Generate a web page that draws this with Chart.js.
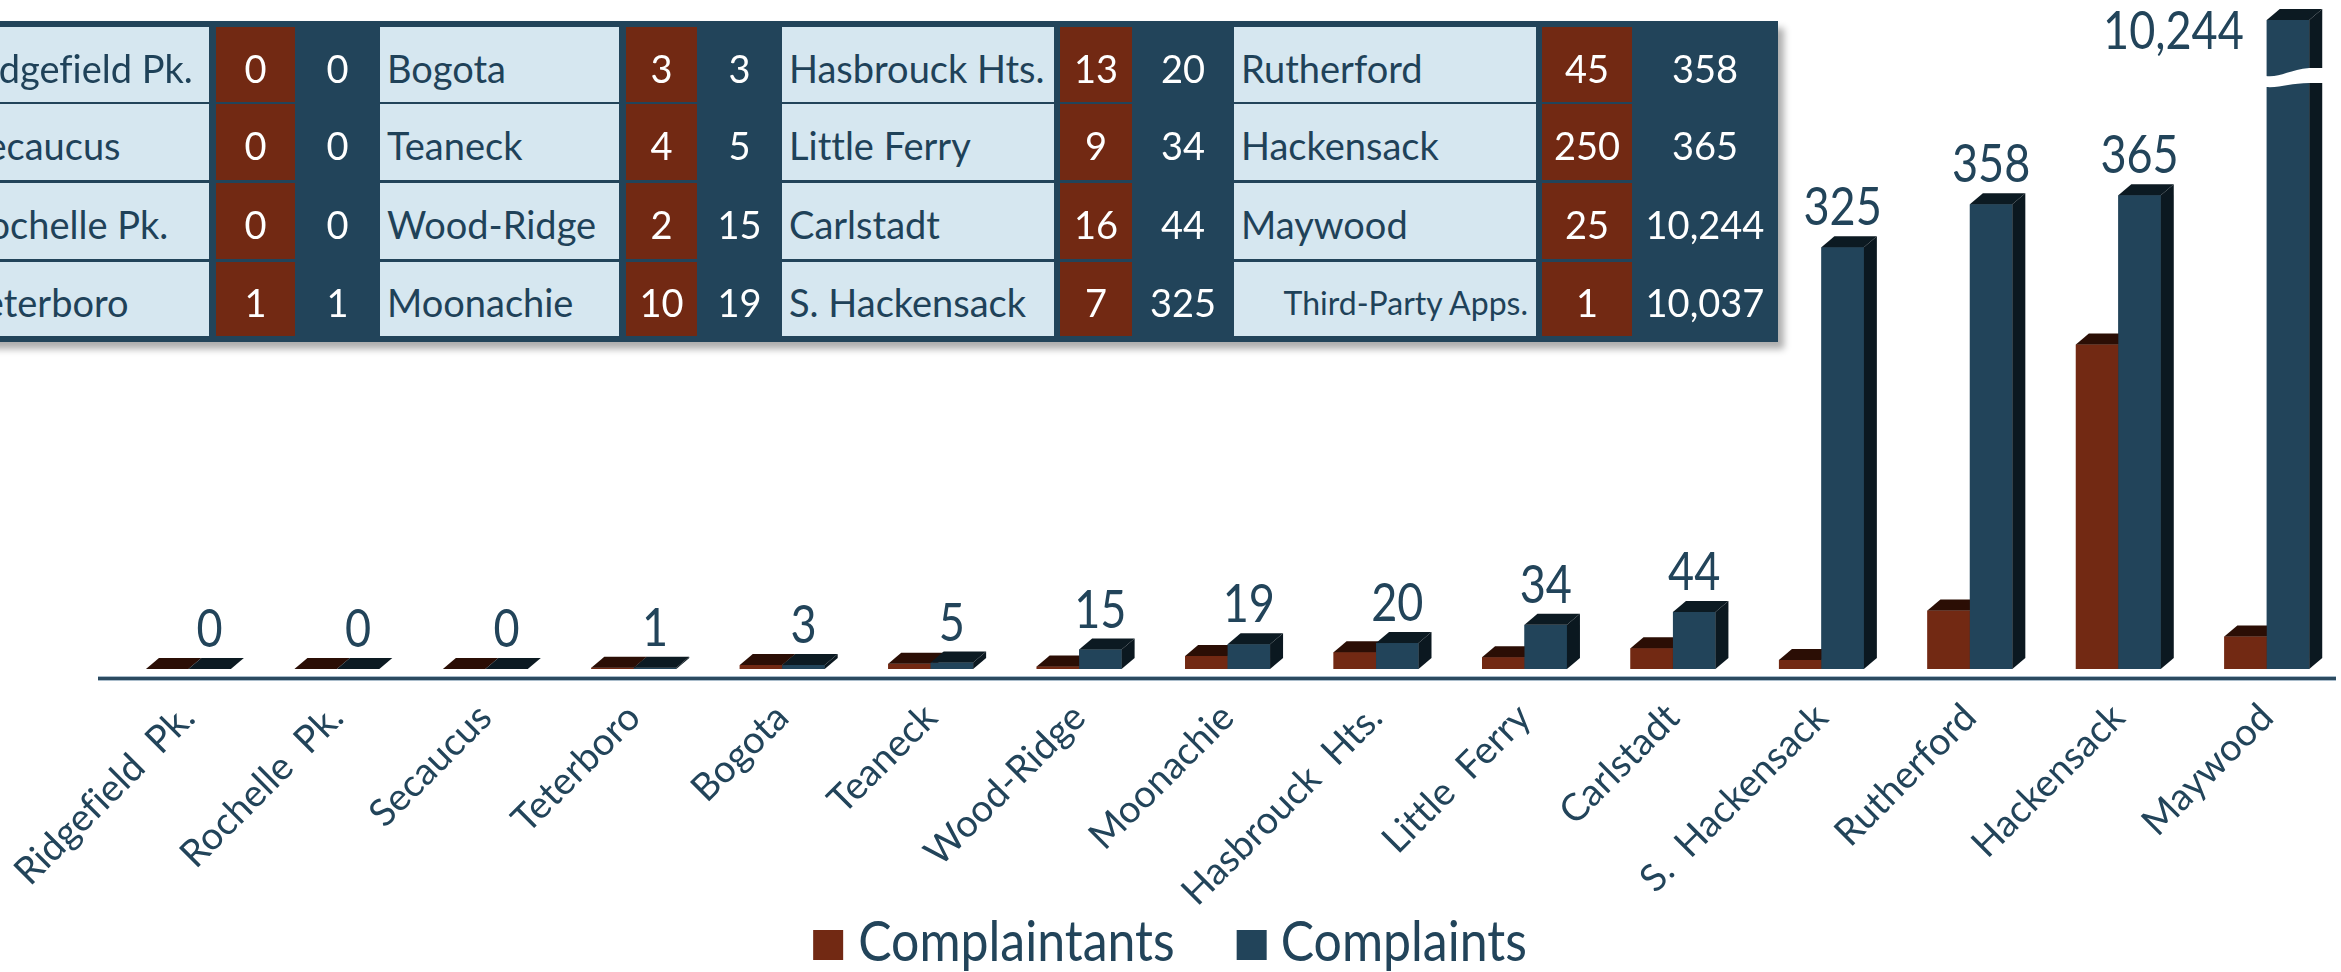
<!DOCTYPE html>
<html><head><meta charset="utf-8">
<script src="https://cdn.jsdelivr.net/npm/chart.js@4.4.0/dist/chart.umd.min.js"></script>
<style>
html,body{margin:0;padding:0;background:#fff;overflow:hidden;width:2341px;height:972px;}
#wrap{position:relative;width:2341px;height:972px;overflow:hidden;}
#c{position:absolute;left:0;top:0;}
#tbl{position:absolute;background:#22445a;box-shadow:6px 7px 7px rgba(0,0,0,0.32);}
.cell{position:absolute;display:flex;align-items:center;box-sizing:border-box;font-family:Lato,sans-serif;white-space:nowrap;font-variant-ligatures:none;}
.nm{background:#d6e7f0;color:#1f4259;font-size:38px;padding-left:7px;padding-top:6px;}
.nm.small{font-size:32px;justify-content:flex-end;padding-right:8px;padding-left:0;}
.rd{background:#722913;color:#fff;font-size:38px;justify-content:center;padding-top:6px;}
.dk{color:#fff;font-size:38px;justify-content:center;padding-top:6px;}
</style></head>
<body><div id="wrap"><canvas id="c" width="2341" height="972"></canvas><div id="tbl"></div></div>
<script>
// ---- data ----
const categories = ["Ridgefield  Pk.","Rochelle  Pk.","Secaucus","Teterboro","Bogota","Teaneck","Wood-Ridge","Moonachie","Hasbrouck  Hts.","Little  Ferry","Carlstadt","S.  Hackensack","Rutherford","Hackensack","Maywood"];
const complaintants = [0,0,0,1,3,4,2,10,13,9,16,7,45,250,25];
const complaints = [0,0,0,1,3,5,15,19,20,34,44,325,358,365,10244];
const seriesNames = ["Complaintants","Complaints"];
const tableNames = ["Ridgefield Pk.","Secaucus","Rochelle Pk.","Teterboro","Bogota","Teaneck","Wood-Ridge","Moonachie","Hasbrouck Hts.","Little Ferry","Carlstadt","S. Hackensack","Rutherford","Hackensack","Maywood","Third-Party Apps."];
const tableComplaintants = [0,0,0,1,3,4,2,10,13,9,16,7,45,250,25,1];
const tableComplaints = [0,0,0,1,3,5,15,19,20,34,44,325,358,365,10244,10037];

// ---- styles ----
const RED = '#722913', BLUE = '#22445a', RED_TOP = '#2b0e05', BLUE_TOP = '#0c1a22', BLUE_SIDE = '#0b1820', RED_SIDE = '#3a1408';
const TXT = '#22445a';
const FONT = 'Lato, sans-serif';
const fmt = v => v.toLocaleString('en-US');

// ---- table ----
(function buildTable(){
  const tbl = document.getElementById('tbl');
  const left = -60, top = 21, right = 1778, bottom = 342;
  tbl.style.left = left+'px'; tbl.style.top = top+'px';
  tbl.style.width = (right-left)+'px'; tbl.style.height = (bottom-top)+'px';
  const groups = [
    {nm:[-41,209], rd:[216,295], dk:[295,380]},
    {nm:[380,619], rd:[626,697], dk:[697,782]},
    {nm:[782,1054], rd:[1060,1132], dk:[1132,1234]},
    {nm:[1234,1536], rd:[1542,1632], dk:[1632,1778]}
  ];
  const rows = [[27,102],[104,180],[183,259],[262,336]];
  function add(cls, x0, x1, y0, y1, text){
    const d = document.createElement('div');
    d.className = 'cell '+cls;
    d.style.left = (x0-left)+'px'; d.style.top = (y0-top)+'px';
    d.style.width = (x1-x0)+'px'; d.style.height = (y1-y0)+'px';
    d.textContent = text;
    tbl.appendChild(d);
  }
  groups.forEach((g,gi)=>{
    rows.forEach((r,ri)=>{
      const k = gi*4+ri;
      const small = tableNames[k].startsWith('Third');
      add('nm'+(small?' small':''), g.nm[0], g.nm[1], r[0], r[1], tableNames[k]);
      add('rd', g.rd[0], g.rd[1], r[0], r[1], fmt(tableComplaintants[k]));
      add('dk', g.dk[0], g.dk[1], r[0], r[1], fmt(tableComplaints[k]));
    });
  });
})();

// ---- 3D bars plugin ----
const DX = 13, DY = 11;
const bars3d = {
  id: 'bars3d',
  beforeDraw(chart){
    try { chart.ctx.textRendering = 'optimizeSpeed'; } catch(e) {}
  },
  afterDatasetsDraw(chart){
    const ctx = chart.ctx, ca = chart.chartArea;
    const metas = [chart.getDatasetMeta(0), chart.getDatasetMeta(1)];
    const fronts = [RED, BLUE], tops = [RED_TOP, BLUE_TOP], sides = [RED_SIDE, BLUE_SIDE];
    // axis line
    ctx.save();
    ctx.fillStyle = '#a9bccb'; ctx.fillRect(98, 676, 2238, 5);
    ctx.fillStyle = '#2b4a60'; ctx.fillRect(98, 677, 2238, 3);
    ctx.restore();
    ctx.save();
    for (let i = 0; i < categories.length; i++){
      for (let k = 0; k < 2; k++){
        const el = metas[k].data[i];
        const x0 = el.x - el.width/2, x1 = el.x + el.width/2;
        const top = Math.max(el.y, ca.top), base = el.base;
        ctx.fillStyle = fronts[k];
        ctx.fillRect(x0, top, x1-x0, base-top);
        ctx.fillStyle = tops[k];
        ctx.beginPath();
        ctx.moveTo(x0, top); ctx.lineTo(x1, top); ctx.lineTo(x1+DX, top-DY); ctx.lineTo(x0+DX, top-DY); ctx.closePath(); ctx.fill();
        ctx.fillStyle = sides[k];
        ctx.beginPath();
        ctx.moveTo(x1, top); ctx.lineTo(x1+DX, top-DY); ctx.lineTo(x1+DX, base-DY); ctx.lineTo(x1, base); ctx.closePath(); ctx.fill();
        // axis break for clipped bar
        if (el.y < ca.top){
          const yb = top + 52;
          ctx.fillStyle = '#ffffff';
          ctx.beginPath();
          ctx.moveTo(x0-1, yb+4);
          ctx.bezierCurveTo(x0+12, yb+6, x0+22, yb-2, x1, yb-4);
          ctx.lineTo(x1+DX+1, yb-4);
          ctx.lineTo(x1+DX+1, yb+11);
          ctx.lineTo(x1, yb+11);
          ctx.bezierCurveTo(x0+24, yb+11, x0+14, yb+16, x0-1, yb+15);
          ctx.closePath();
          ctx.fill();
        }
      }
      // label for complaints
      const el = metas[1].data[i];
      const v = complaints[i];
      ctx.fillStyle = TXT;
      ctx.font = '45px ' + FONT;
      ctx.textBaseline = 'alphabetic';
      let lx, ly;
      if (el.y < ca.top){
        ctx.textAlign = 'right';
        lx = el.x - el.width/2 - 23; ly = ca.top + 29;
      } else {
        ctx.textAlign = 'center';
        lx = el.x; ly = el.y - DY - 11;
      }
      ctx.save(); ctx.translate(lx, ly); ctx.scale(1, 1.15); ctx.fillText(fmt(v), 0, 0); ctx.restore();
    }
    ctx.restore();
    // legend
    ctx.save();
    ctx.font = '50px ' + FONT;
    const w1 = ctx.measureText(seriesNames[0]).width, w2 = ctx.measureText(seriesNames[1]).width;
    const total = 30 + 15 + w1 + 62 + 30 + 14 + w2;
    let x = 1170 - total/2;
    const by = 930;
    ctx.textAlign = 'left'; ctx.textBaseline = 'alphabetic';
    ctx.fillStyle = RED; ctx.fillRect(x, by, 30, 30); x += 45;
    ctx.fillStyle = TXT; ctx.save(); ctx.translate(x, 961); ctx.scale(1, 1.12); ctx.fillText(seriesNames[0], 0, 0); ctx.restore(); x += w1 + 62;
    ctx.fillStyle = BLUE; ctx.fillRect(x, by, 30, 30); x += 44;
    ctx.fillStyle = TXT; ctx.save(); ctx.translate(x, 961); ctx.scale(1, 1.12); ctx.fillText(seriesNames[1], 0, 0); ctx.restore();
    ctx.restore();
  }
};

new Chart(document.getElementById('c'), {
  type: 'bar',
  data: {
    labels: categories,
    datasets: [
      {label: seriesNames[0], data: complaintants, backgroundColor: RED, categoryPercentage: 0.572, barPercentage: 1},
      {label: seriesNames[1], data: complaints, backgroundColor: BLUE, categoryPercentage: 0.572, barPercentage: 1}
    ]
  },
  options: {
    responsive: false, animation: false, devicePixelRatio: 1,
    layout: {padding: {left: 111, right: 0, top: 20, bottom: 0}},
    plugins: {legend: {display: false}, tooltip: {enabled: false}},
    scales: {
      y: {display: false, min: 0, max: 500},
      x: {
        grid: {display: false}, border: {display: false},
        afterFit: s => { s.height = 303; },
        ticks: {autoSkip: false, maxRotation: 45, minRotation: 45, padding: 18, color: TXT, font: {family: 'Lato', size: 38}}
      }
    }
  },
  plugins: [bars3d]
});
</script></body></html>
